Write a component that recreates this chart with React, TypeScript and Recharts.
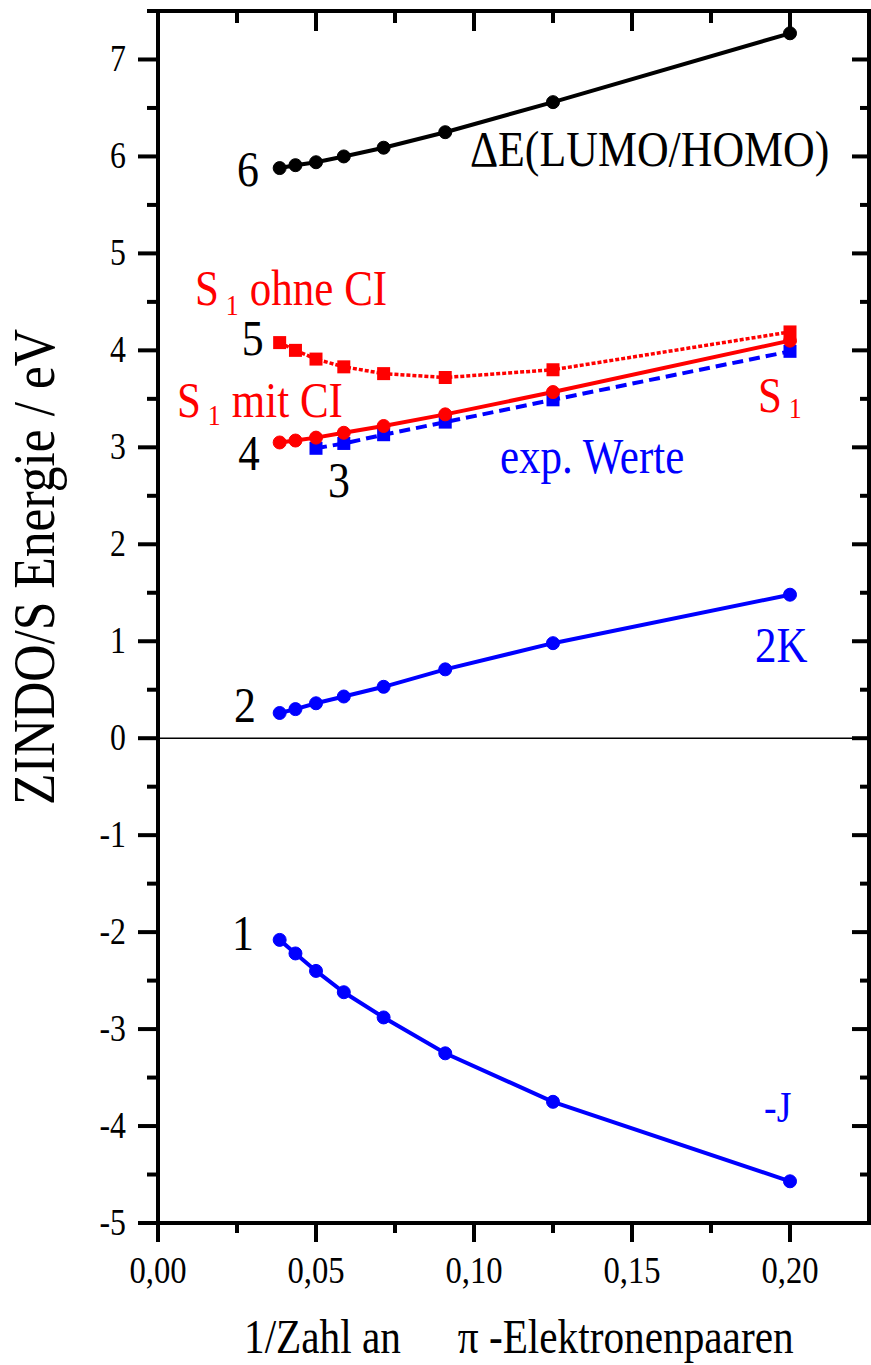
import React from 'react';
import { LineChart, Line, XAxis, YAxis, ReferenceLine, ReferenceDot } from 'recharts';

const FONT = '"Liberation Serif", "Times New Roman", serif';
const RED = '#ff0000';
const BLUE = '#0000ff';
const SX = 0.86; // the reference typeface is a narrow Times

// x = 1 / (number of pi-electron pairs)
const xCalc = [0.0385, 0.0435, 0.05, 0.0588, 0.0714, 0.0909, 0.125, 0.2];
const xExp = [0.05, 0.0588, 0.0714, 0.0909, 0.125, 0.2];

const deltaE = [5.88, 5.91, 5.94, 6.0, 6.09, 6.25, 6.56, 7.27];
const s1OhneCI = [4.08, 4.0, 3.91, 3.83, 3.76, 3.72, 3.8, 4.19];
const s1MitCI = [3.05, 3.07, 3.1, 3.15, 3.22, 3.34, 3.57, 4.1];
const s1Exp = [2.99, 3.04, 3.13, 3.26, 3.49, 3.99];
const twoK = [0.26, 0.3, 0.36, 0.43, 0.53, 0.71, 0.98, 1.48];
const minusJ = [-2.08, -2.22, -2.4, -2.62, -2.88, -3.25, -3.75, -4.57];

const xMajorTicks = [0, 0.05, 0.1, 0.15, 0.2];
const xTickLabels = ['0,00', '0,05', '0,10', '0,15', '0,20'];
const xMinorTicks = [0.025, 0.075, 0.125, 0.175];

const yMajorTicks = [-5, -4, -3, -2, -1, 0, 1, 2, 3, 4, 5, 6, 7];
const yTickLabels = ['-5', '-4', '-3', '-2', '-1', '0', '1', '2', '3', '4', '5', '6', '7'];
const yMinorTicks = [-4.5, -3.5, -2.5, -1.5, -0.5, 0.5, 1.5, 2.5, 3.5, 4.5, 5.5, 6.5, 7.5];

const xTicks = [...xMajorTicks, ...xMinorTicks].sort((a, b) => a - b);
const yTicks = [...yMajorTicks, ...yMinorTicks].sort((a, b) => a - b);

const toPts = (xs: number[], ys: number[]) => xs.map((x, i) => ({ x, y: ys[i] }));
const deltaEData = toPts(xCalc, deltaE);
const s1OhneData = toPts(xCalc, s1OhneCI);
const s1MitData = toPts(xCalc, s1MitCI);
const s1ExpData = toPts(xExp, s1Exp);
const twoKData = toPts(xCalc, twoK);
const minusJData = toPts(xCalc, minusJ);

// text annotations anchored in data coordinates
type Note = { x: number; y: number; text: string; color: string; size: number; anchor: string; sub?: string; rest?: string; subDy?: number };
const notes: Note[] = [
  { x: 0.0285, y: 5.7, text: '6', color: '#000', size: 51, anchor: 'middle' },
  { x: 0.0987, y: 5.9, text: '\u0394E(LUMO/HOMO)', color: '#000', size: 51, anchor: 'start' },
  { x: 0.0117, y: 4.47, text: 'S', sub: '1', rest: 'ohne CI', color: RED, size: 50, anchor: 'start', subDy: 10 },
  { x: 0.03, y: 3.95, text: '5', color: '#000', size: 51, anchor: 'middle' },
  { x: 0.006, y: 3.31, text: 'S', sub: '1', rest: 'mit CI', color: RED, size: 50, anchor: 'start', subDy: 8 },
  { x: 0.0288, y: 2.77, text: '4', color: '#000', size: 50, anchor: 'middle' },
  { x: 0.0573, y: 2.49, text: '3', color: '#000', size: 51, anchor: 'middle' },
  { x: 0.1899, y: 3.36, text: 'S', sub: '1', color: RED, size: 50, anchor: 'start', subDy: 6 },
  { x: 0.1082, y: 2.74, text: 'exp. Werte', color: BLUE, size: 50, anchor: 'start' },
  { x: 0.0275, y: 0.17, text: '2', color: '#000', size: 51, anchor: 'middle' },
  { x: 0.1889, y: 0.79, text: '2K', color: BLUE, size: 50, anchor: 'start' },
  { x: 0.0269, y: -2.18, text: '1', color: '#000', size: 51, anchor: 'middle' },
  { x: 0.1918, y: -3.96, text: '-J', color: BLUE, size: 44, anchor: 'start' },
];

const findLabel = (majors: number[], labels: string[], v: number) => {
  const i = majors.findIndex((a) => Math.abs(a - v) < 1e-9);
  return i >= 0 ? labels[i] : null;
};

const NText = ({ x, y, size, anchor = 'start', fill = '#000', rotate = 0, children }: any) => (
  <text
    x={0}
    y={0}
    transform={`translate(${x} ${y})${rotate ? ` rotate(${rotate})` : ''} scale(${SX} 1)`}
    textAnchor={anchor}
    fontFamily={FONT}
    fontSize={size}
    fill={fill}
  >
    {children}
  </text>
);

const BottomTick = (p: any) => {
  const { x, y, payload } = p;
  const lab = findLabel(xMajorTicks, xTickLabels, payload.value);
  const len = lab !== null ? 19 : 10;
  return (
    <g>
      <line x1={x} x2={x} y1={y} y2={y + len} stroke="#000" strokeWidth={4} />
      {lab !== null && (
        <NText x={x} y={y + 60} size={38} anchor="middle">
          {lab}
        </NText>
      )}
    </g>
  );
};

const TopTick = (p: any) => {
  const { x, y, payload } = p;
  const major = findLabel(xMajorTicks, xTickLabels, payload.value) !== null;
  const len = major ? 20 : 12;
  return <line x1={x} x2={x} y1={y} y2={y + len} stroke="#000" strokeWidth={4} />;
};

const LeftTick = (p: any) => {
  const { x, y, payload } = p;
  const lab = findLabel(yMajorTicks, yTickLabels, payload.value);
  const len = lab !== null ? 20 : 11;
  return (
    <g>
      <line x1={x} x2={x - len} y1={y} y2={y} stroke="#000" strokeWidth={4} />
      {lab !== null && (
        <NText x={x - 32} y={y + 12} size={37} anchor="end">
          {lab}
        </NText>
      )}
    </g>
  );
};

const RightTick = (p: any) => {
  const { x, y, payload } = p;
  const major = findLabel(yMajorTicks, yTickLabels, payload.value) !== null;
  const len = major ? 17 : 9;
  return <line x1={x} x2={x - len} y1={y} y2={y} stroke="#000" strokeWidth={4} />;
};

const squareDot = (color: string) => (props: any) => {
  const { cx, cy, index } = props;
  if (cx == null || cy == null) return <g key={'s' + index} />;
  return <rect key={'s' + index} x={cx - 6.5} y={cy - 6.5} width={13} height={13} fill={color} />;
};

const renderNote = (n: Note) => (p: any) => {
  const vb = p.viewBox || {};
  const cx = (vb.x ?? 0) + (vb.width ?? 0) / 2;
  const cy = (vb.y ?? 0) + (vb.height ?? 0) / 2;
  if (n.sub) {
    const dy = n.subDy ?? 8;
    return (
      <NText x={cx} y={cy} size={n.size} anchor={n.anchor} fill={n.color}>
        <tspan>{n.text}</tspan>
        <tspan dx={8} dy={dy} fontSize={30}>{n.sub}</tspan>
        {n.rest && <tspan dx={13} dy={-dy}>{n.rest}</tspan>}
      </NText>
    );
  }
  return (
    <NText x={cx} y={cy} size={n.size} anchor={n.anchor} fill={n.color}>
      {n.text}
    </NText>
  );
};

const YLabel = (p: any) => {
  const vb = p.viewBox || { x: 0, y: 11, width: 158, height: 1212 };
  const x = vb.x + 54;
  const y = vb.y + vb.height / 2 - 50;
  return (
    <NText x={x} y={y} size={60} anchor="middle" rotate={-90}>
      ZINDO/S Energie / eV
    </NText>
  );
};

const XLabel = (p: any) => {
  const vb = p.viewBox || { x: 158, y: 1223, width: 711, height: 142 };
  const x = vb.x + 86;
  const y = vb.y + 130;
  return (
    <NText x={x} y={y} size={48} anchor="start">
      <tspan>1/Zahl an</tspan>
      <tspan dx={66}>{'\u03C0'}</tspan>
      <tspan dx={12}>-Elektronenpaaren</tspan>
    </NText>
  );
};

const axisLine = { stroke: '#000', strokeWidth: 4, strokeLinecap: 'square' as const };
const circle = (c: string) => ({ r: 6.5, fill: c, stroke: c, strokeWidth: 1 });

export default function App() {
  return (
    <div style={{ position: 'absolute', left: 0, top: 0, background: '#fff' }}>
      <LineChart width={871} height={1365} margin={{ top: 0, right: 1, bottom: 0, left: 0 }}>
        <XAxis
          xAxisId="b"
          dataKey="x"
          type="number"
          domain={[0, 0.225]}
          ticks={xTicks}
          interval={0}
          orientation="bottom"
          height={142}
          axisLine={axisLine}
          tickLine={false}
          tickSize={0}
          tickMargin={0}
          tick={BottomTick}
          allowDataOverflow
          label={XLabel}
        />
        <XAxis
          xAxisId="t"
          dataKey="x"
          type="number"
          domain={[0, 0.225]}
          ticks={xTicks}
          interval={0}
          orientation="top"
          height={11}
          axisLine={axisLine}
          tickLine={false}
          tickSize={0}
          tickMargin={0}
          tick={TopTick}
          allowDataOverflow
        />
        <YAxis
          yAxisId="l"
          type="number"
          domain={[-5, 7.5]}
          ticks={yTicks}
          interval={0}
          width={158}
          axisLine={axisLine}
          tickLine={false}
          tickSize={0}
          tickMargin={0}
          tick={LeftTick}
          allowDataOverflow
          label={YLabel}
        />
        <YAxis
          yAxisId="r"
          orientation="right"
          type="number"
          domain={[-5, 7.5]}
          ticks={yTicks}
          interval={0}
          width={1}
          axisLine={axisLine}
          tickLine={false}
          tickSize={0}
          tickMargin={0}
          tick={RightTick}
          allowDataOverflow
        />
        <ReferenceLine xAxisId="b" yAxisId="l" y={0} stroke="#000" strokeWidth={1.5} />
        <Line xAxisId="t" yAxisId="r" data={deltaEData} dataKey="y" stroke="none" dot={false} activeDot={false} isAnimationActive={false} />
        <Line xAxisId="b" yAxisId="l" data={deltaEData} dataKey="y" type="linear" stroke="#000" strokeWidth={4}
          dot={circle('#000')} activeDot={false} isAnimationActive={false} />
        <Line xAxisId="b" yAxisId="l" data={s1OhneData} dataKey="y" type="linear" stroke={RED} strokeWidth={3.5} strokeDasharray="4 2"
          dot={squareDot(RED)} activeDot={false} isAnimationActive={false} />
        <Line xAxisId="b" yAxisId="l" data={s1ExpData} dataKey="y" type="linear" stroke={BLUE} strokeWidth={4} strokeDasharray="11 6"
          dot={squareDot(BLUE)} activeDot={false} isAnimationActive={false} />
        <Line xAxisId="b" yAxisId="l" data={s1MitData} dataKey="y" type="linear" stroke={RED} strokeWidth={4}
          dot={circle(RED)} activeDot={false} isAnimationActive={false} />
        <Line xAxisId="b" yAxisId="l" data={twoKData} dataKey="y" type="linear" stroke={BLUE} strokeWidth={4}
          dot={circle(BLUE)} activeDot={false} isAnimationActive={false} />
        <Line xAxisId="b" yAxisId="l" data={minusJData} dataKey="y" type="linear" stroke={BLUE} strokeWidth={4}
          dot={circle(BLUE)} activeDot={false} isAnimationActive={false} />
        {notes.map((n, i) => (
          <ReferenceDot key={'n' + i} xAxisId="b" yAxisId="l" x={n.x} y={n.y} r={0} fill="none" stroke="none"
            ifOverflow="visible" label={renderNote(n)} />
        ))}
      </LineChart>
    </div>
  );
}
